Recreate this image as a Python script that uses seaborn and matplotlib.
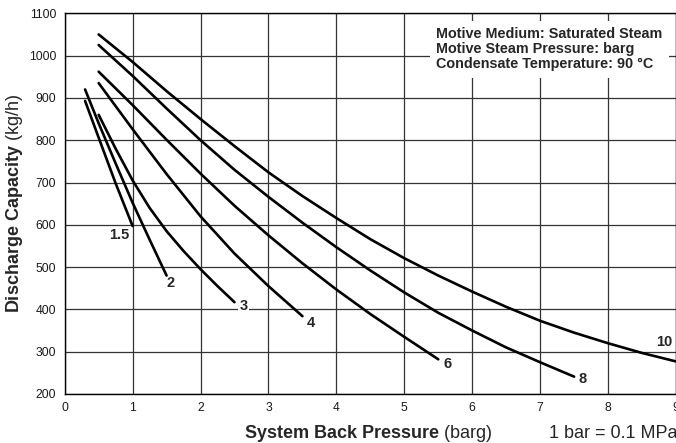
import matplotlib
matplotlib.use("Agg")
import matplotlib.pyplot as plt
import seaborn as sns
import pandas as pd

# ---- data ----
steam_labels = ["1.5", "2", "3", "4", "6", "8", "10"]

x_15 = [0.3, 0.5, 0.75, 1.0]
y_15 = [893, 806, 698, 597]

x_2 = [0.3, 0.5, 0.75, 1.0, 1.25, 1.5]
y_2 = [920, 840, 745, 652, 565, 480]

x_3 = [0.5, 0.75, 1.0, 1.25, 1.5, 1.75, 2.0, 2.25, 2.5]
y_3 = [860, 780, 705, 640, 585, 538, 495, 455, 417]

x_4 = [0.5, 1.0, 1.5, 2.0, 2.5, 3.0, 3.5]
y_4 = [935, 826, 720, 620, 532, 455, 384]

x_6 = [0.5, 1.0, 1.5, 2.0, 2.5, 3.0, 3.5, 4.0, 4.5, 5.0, 5.5]
y_6 = [962, 883, 801, 721, 645, 575, 509, 447, 389, 335, 282]

x_8 = [0.5, 1.0, 1.5, 2.0, 2.5, 3.0, 3.5, 4.0, 4.5, 5.0, 5.5, 6.0, 6.5, 7.0, 7.5]
y_8 = [1025, 952, 875, 800, 730, 666, 605, 547, 492, 440, 392, 350, 310, 275, 241]

x_10 = [0.5, 1.0, 1.5, 2.0, 2.5, 3.0, 3.5, 4.0, 4.5, 5.0, 5.5, 6.0, 6.5, 7.0, 7.5, 8.0, 8.5, 9.0]
y_10 = [1050, 985, 916, 850, 786, 724, 668, 616, 566, 521, 480, 442, 406, 373, 345, 320, 297, 277]

# curve label anchor points (data coords)
label_x = [0.80, 1.56, 2.63, 3.62, 5.63, 7.62, 8.83]
label_y = [575, 462, 407, 367, 272, 235, 322]

x_ticks = [0, 1, 2, 3, 4, 5, 6, 7, 8, 9]
y_ticks = [200, 300, 400, 500, 600, 700, 800, 900, 1000, 1100]

info_text = ("Motive Medium: Saturated Steam\n"
             "Motive Steam Pressure: barg\n"
             "Condensate Temperature: 90 °C")

# ---- build long table ----
series_x = [x_15, x_2, x_3, x_4, x_6, x_8, x_10]
series_y = [y_15, y_2, y_3, y_4, y_6, y_8, y_10]
rows = []
for lab, xs, ys in zip(steam_labels, series_x, series_y):
    for xv, yv in zip(xs, ys):
        rows.append({"steam": lab, "pressure": xv, "capacity": yv})
df = pd.DataFrame(rows)

# ---- style ----
sns.set_style("white")
plt.rcParams["font.family"] = ["Liberation Sans", "DejaVu Sans"]
plt.rcParams["mathtext.fontset"] = "custom"
plt.rcParams["mathtext.rm"] = "Liberation Sans"
plt.rcParams["mathtext.bf"] = "Liberation Sans:bold"
plt.rcParams["mathtext.it"] = "Liberation Sans:italic"

fig = plt.figure(figsize=(6.76, 4.43), dpi=100)
ax = fig.add_axes([64.7 / 676, 1 - 394 / 443, (676 - 64.7) / 676, (394 - 13.3) / 443])

sns.lineplot(data=df, x="pressure", y="capacity", units="steam", estimator=None,
             sort=False, color="black", linewidth=1.9, ax=ax, legend=False)

ax.set_xlim(0, 9)
ax.set_ylim(200, 1100)
ax.set_xticks(x_ticks)
ax.set_yticks(y_ticks)
ax.set_xticklabels([str(v) for v in x_ticks], fontsize=8.7, color="#1a1a1a")
ax.set_yticklabels([str(v) for v in y_ticks], fontsize=8.7, color="#1a1a1a")
ax.tick_params(axis="both", length=0)
ax.tick_params(axis="y", pad=6)
ax.tick_params(axis="x", pad=6)
ax.grid(True, color="#333333", linewidth=0.9)
ax.set_axisbelow(True)
for s in ax.spines.values():
    s.set_color("black")
    s.set_linewidth(1.0)
ax.set_xlabel("")
ax.set_ylabel("")

# curve labels
for lab, lx, ly in zip(steam_labels, label_x, label_y):
    kw = {}
    if lab == "3":
        kw["bbox"] = dict(facecolor="white", edgecolor="none", pad=1.0)
    ax.text(lx, ly, lab, fontsize=10.5, fontweight="bold", ha="center", va="center", **kw)

# info box
ax.text(5.47, 1068, info_text, fontsize=10.4, fontweight="bold", ha="left", va="top",
        linespacing=1.12,
        bbox=dict(facecolor="white", edgecolor="none", pad=4.5))

# axis titles
fig.text(368.5 / 676, 1 - 437.5 / 443, r"$\mathbf{System\ Back\ Pressure}$ (barg)",
         fontsize=13, ha="center", va="baseline")
fig.text(549 / 676, 1 - 437.5 / 443, "1 bar = 0.1 MPa", fontsize=13, ha="left", va="baseline")
fig.text(15 / 676, 1 - 203.5 / 443, r"$\mathbf{Discharge\ Capacity}$ (kg/h)",
         fontsize=13, ha="center", va="center", rotation=90)

fig.savefig("out.png", dpi=100)
